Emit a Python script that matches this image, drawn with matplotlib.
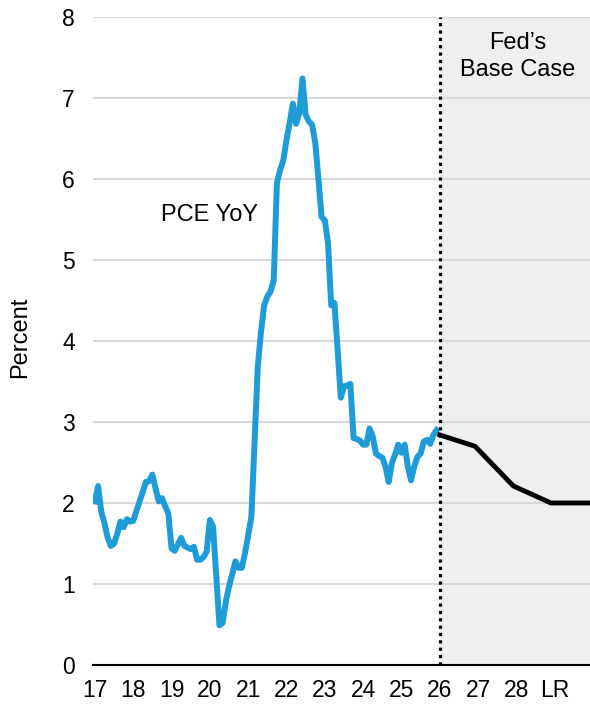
import numpy as np
import matplotlib.pyplot as plt

plt.rcParams['font.family'] = ['Liberation Sans', 'DejaVu Sans']

# monthly PCE YoY, Jan 2017 - Dec 2025
pce_2017 = [2.02, 2.21, 1.89, 1.75, 1.57, 1.47, 1.50, 1.62, 1.77, 1.70, 1.80, 1.77]
pce_2018 = [1.78, 1.90, 2.02, 2.14, 2.26, 2.27, 2.35, 2.18, 2.02, 2.06, 1.96, 1.87]
pce_2019 = [1.44, 1.41, 1.49, 1.57, 1.47, 1.45, 1.43, 1.46, 1.30, 1.30, 1.33, 1.40]
pce_2020 = [1.79, 1.71, 1.10, 0.49, 0.52, 0.78, 0.97, 1.12, 1.28, 1.20, 1.20, 1.38]
pce_2021 = [1.60, 1.83, 2.75, 3.68, 4.11, 4.44, 4.55, 4.61, 4.75, 5.95, 6.11, 6.23]
pce_2022 = [6.48, 6.70, 6.93, 6.68, 6.81, 7.24, 6.79, 6.71, 6.67, 6.45, 6.00, 5.53]
pce_2023 = [5.49, 5.21, 4.44, 4.47, 3.90, 3.30, 3.44, 3.45, 3.47, 2.80, 2.79, 2.77]
pce_2024 = [2.72, 2.72, 2.92, 2.82, 2.61, 2.58, 2.56, 2.45, 2.26, 2.49, 2.60, 2.72]
pce_2025 = [2.62, 2.72, 2.45, 2.28, 2.45, 2.57, 2.61, 2.76, 2.78, 2.73, 2.84, 2.90]
pce = (pce_2017 + pce_2018 + pce_2019 + pce_2020 + pce_2021 + pce_2022
       + pce_2023 + pce_2024 + pce_2025)

# Fed base case path
fed_x = [9, 9.92, 10.92, 11.9, 12.95]
fed_vals = [2.84, 2.70, 2.21, 2.00, 2.00]

tick_labels = ['17', '18', '19', '20', '21', '22', '23', '24', '25', '26', '27', '28', 'LR']

months = np.arange(len(pce)) / 12.0

fig = plt.figure(figsize=(5.9, 7.04), dpi=100)
ax = fig.add_axes([0.1576, 0.0554, 0.8424, 0.9205])

ax.axvspan(9, 13, color='#efefef', zorder=0, lw=0)
ax.set_yticks(range(0, 9))
ax.grid(axis='y', color='#d9d9d9', lw=1.5, zorder=1)
ax.set_axisbelow(True)

ax.plot(months, pce, color='#1f9bd7', lw=4.3, zorder=3, solid_joinstyle='round')
ax.plot(fed_x, fed_vals, color='black', lw=3.5, zorder=3)
ax.axvline(9, color='black', lw=2.3, linestyle=(0, (1, 1.3)), zorder=4)

ax.set_xlim(-0.05, 12.92)
ax.set_ylim(0, 8)
ax.set_xticks(range(len(tick_labels)))
ax.set_xticklabels(tick_labels)
ax.tick_params(axis='both', length=0, labelsize=16.5)
ax.tick_params(axis='y', pad=13)
ax.tick_params(axis='x', pad=10)

for s in ['left', 'right', 'top']:
    ax.spines[s].set_visible(False)
ax.spines['bottom'].set_color('black')
ax.spines['bottom'].set_linewidth(1.5)
ax.spines['bottom'].set_zorder(5)

ax.set_ylabel('Percent', fontsize=17)
ax.yaxis.set_label_coords(-0.124, 0.505)

ax.text(3.0, 5.56, 'PCE YoY', fontsize=17, ha='center', va='center')
ax.text(11.04, 7.51, 'Fed\u2019s\nBase Case', fontsize=17, ha='center', va='center',
        linespacing=1.3)

plt.savefig('out.png', dpi=100)
